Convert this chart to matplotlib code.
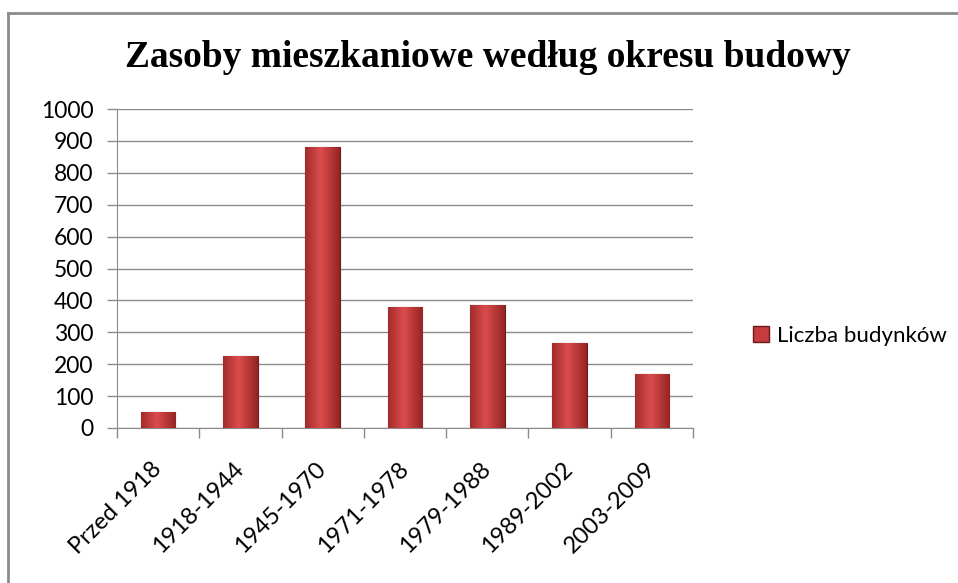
import matplotlib.pyplot as plt
import matplotlib.patches as mpatches
import matplotlib.lines as mlines
import numpy as np

plt.rcParams['font.family'] = ['Lato', 'DejaVu Sans']

# dane
okresy = ['Przed 1918', '1918-1944', '1945-1970', '1971-1978',
          '1979-1988', '1989-2002', '2003-2009']
budynki = [50, 225, 880, 380, 387, 265, 170]
seria = 'Liczba budynków'
tytul = 'Zasoby mieszkaniowe według okresu budowy'

fig = plt.figure(figsize=(9.58, 5.83), dpi=100)
ax = fig.add_axes([117 / 958, 1 - 428 / 583, 576 / 958, 319 / 583])

x = np.arange(len(okresy))
bars = ax.bar(x, budynki, width=0.42, color='#C63B3C', edgecolor='#6E1A1A',
              linewidth=0.8, zorder=3, label=seria)

# gradient na słupkach (efekt wypukły)
grad = np.linspace(0, 1, 64)
prof = np.clip(1 - np.abs(grad - 0.45) * 1.6, 0, 1)
img = np.zeros((1, 64, 3))
dark = np.array([0.55, 0.12, 0.12])
light = np.array([0.86, 0.30, 0.30])
for i, p in enumerate(prof):
    img[0, i] = dark + (light - dark) * p
for b in bars:
    bx, by = b.get_x(), b.get_y()
    w, h = b.get_width(), b.get_height()
    im = ax.imshow(img, extent=[bx, bx + w, by, by + h], aspect='auto', zorder=3.5)
    im.set_clip_path(b)

ax.set_xlim(-0.5, len(okresy) - 0.5)
ax.set_ylim(0, 1000)
ax.set_yticks(np.arange(0, 1001, 100))
ax.set_xticks(x)
ax.set_xticklabels(okresy, rotation=45, ha='right', va='center',
                   rotation_mode='anchor', fontsize=17)
ax.tick_params(axis='x', length=0, pad=27)
ax.set_xticks(np.arange(-0.5, len(okresy), 1), minor=True)
ax.tick_params(axis='x', which='minor', length=7, color='#8C8C8C', width=1)
ax.tick_params(axis='y', labelsize=16.5, length=7, pad=10, color='#8C8C8C', width=1)
ax.yaxis.grid(True, color='#8C8C8C', linewidth=1, zorder=0)
for s in ['top', 'right']:
    ax.spines[s].set_visible(False)
ax.spines['left'].set_color('#8C8C8C')
ax.spines['bottom'].set_color('#8C8C8C')
ax.set_xlim(-0.5, len(okresy) - 0.5)

fig.text(488 / 958, 1 - 67 / 583, tytul, ha='center', va='baseline',
         fontsize=27, fontweight='bold', family='Liberation Serif')

handle = mpatches.Patch(facecolor='#C63B3C', edgecolor='#6E1A1A', label=seria)
fig.legend(handles=[handle], loc='center left', bbox_to_anchor=(733 / 958, 1 - 336 / 583),
           frameon=False, fontsize=16, handlelength=0.7, handleheight=0.7, handletextpad=0.4)

# ramka wykresu (widoczna lewa i górna krawędź)
fig.add_artist(mlines.Line2D([8 / 958, 8 / 958], [0, 1 - 13 / 583], transform=fig.transFigure,
                             color='#8C8C8C', linewidth=2))
fig.add_artist(mlines.Line2D([8 / 958, 1], [1 - 13 / 583, 1 - 13 / 583], transform=fig.transFigure,
                             color='#8C8C8C', linewidth=2))

fig.savefig('out.png', dpi=100)
